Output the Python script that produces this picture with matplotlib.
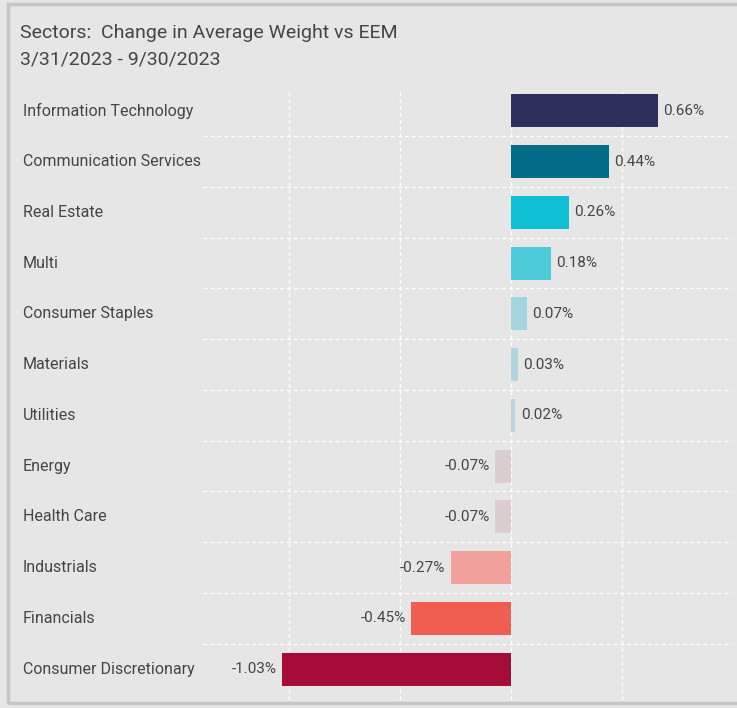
import matplotlib.pyplot as plt
from matplotlib.patches import Rectangle
from matplotlib.transforms import blended_transform_factory

sectors = ["Information Technology", "Communication Services", "Real Estate", "Multi",
           "Consumer Staples", "Materials", "Utilities", "Energy", "Health Care",
           "Industrials", "Financials", "Consumer Discretionary"]
changes = [0.66, 0.44, 0.26, 0.18, 0.07, 0.03, 0.02, -0.07, -0.07, -0.27, -0.45, -1.03]
colors = ["#2b305c", "#046c89", "#0fbfd3", "#4ecbd9", "#a3d5df", "#b2d4dc", "#b8d5dc",
          "#dccdd1", "#dccdd1", "#f2a09a", "#ef5e50", "#a60c38"]
grid_x = [-1.0, -0.5, 0.0, 0.5]

plt.rcParams['font.family'] = ['Roboto', 'DejaVu Sans']
text_color = "#454545"
bg = "#e6e6e6"

fig = plt.figure(figsize=(7.37, 7.08), dpi=100)
fig.patch.set_facecolor(bg)
W, H = 737, 708

# outer border (right side runs off the image)
fig.patches.append(Rectangle((8 / W, 5 / H), 1.0, 699 / H, transform=fig.transFigure,
                             fill=False, edgecolor="#c6c6c6", linewidth=2.5))

fig.text(20 / W, 1 - 33 / H, "Sectors:  Change in Average Weight vs EEM", fontsize=14,
         color=text_color, va="center", ha="left")
fig.text(20 / W, 1 - 59 / H, "3/31/2023 - 9/30/2023", fontsize=14,
         color=text_color, va="center", ha="left")

ax = fig.add_axes([203 / W, 1 - 700 / H, (732 - 203) / W, (700 - 89) / H])
ax.set_facecolor(bg)
for s in ax.spines.values():
    s.set_visible(False)

ypos = list(range(len(sectors)))
ax.barh(ypos, changes, height=0.65, color=colors, zorder=3)

for x in grid_x:
    ax.axvline(x, color="white", linestyle=(0, (3, 2)), linewidth=1, zorder=1)
for i in range(len(sectors) - 1):
    ax.axhline(i + 0.5, color="white", linestyle=(0, (3, 2)), linewidth=1, zorder=1)

# value labels
for y, v in zip(ypos, changes):
    off = 0.025 if v >= 0 else -0.025
    ax.text(v + off, y, f"{v:.2f}%", fontsize=11, color=text_color, va="center",
            ha="left" if v >= 0 else "right", zorder=4)

ax.set_xlim(-1.387, 0.995)
ax.set_ylim(11.61, -0.43)
ax.set_xticks([])
ax.set_yticks([])

# category labels sit left of the axes, in figure x / data y
label_tr = blended_transform_factory(fig.transFigure, ax.transData)
for y, name in zip(ypos, sectors):
    ax.text(23 / W, y, name, transform=label_tr, fontsize=11.5, color=text_color,
            va="center", ha="left")

fig.savefig("out.png", dpi=100, facecolor=bg)
